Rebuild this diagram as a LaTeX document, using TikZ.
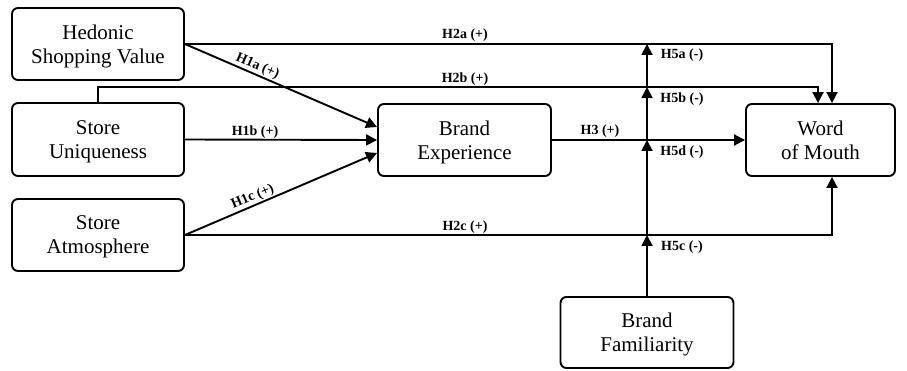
\documentclass[tikz,border=0pt]{standalone}
\usepackage{fontspec}
\setmainfont{Liberation Serif}
\usetikzlibrary{arrows.meta,calc}
\begin{document}
\begin{tikzpicture}[x=1pt,y=-1pt,
  box/.style={draw,line width=1.9pt,rounded corners=6pt,align=center,inner sep=0pt,
    text depth=0pt,font=\fontsize{21}{24}\selectfont},
  arr/.style={line width=1.9pt,-{Triangle[length=11pt,width=11pt]}},
  lab/.style={font=\bfseries\fontsize{14}{16}\selectfont,inner sep=1pt}]
\useasboundingbox (0,0) rectangle (907,371);
\node[box,minimum width=172pt,minimum height=72pt] (hsv) at (98,44) {Hedonic\\Shopping Value};
\node[box,minimum width=172pt,minimum height=73pt] (su) at (98,139.5) {Store\\Uniqueness};
\node[box,minimum width=172pt,minimum height=72pt] (sa) at (98,235) {Store\\Atmosphere};
\node[box,minimum width=173pt,minimum height=72pt] (be) at (464.5,140) {Brand\\Experience};
\node[box,minimum width=149pt,minimum height=72pt] (wom) at (820.5,140) {Word\\of Mouth};
\node[box,minimum width=173pt,minimum height=71pt] (bf) at (647,332.5) {Brand\\Familiarity};
% direct paths
\draw[arr] (hsv.east) -| ($(wom.north)+(11.5,0)$);
\coordinate (sutop) at ($(su.north)+(0,-15)$);
\draw[arr] (su.north) -- (sutop) -| ($(wom.north)+(-2.5,0)$);
\draw[arr] (sa.east) -| ($(wom.south)+(11.5,0)$);
\draw[arr] (hsv.east) -- node[lab,pos=0.36,above=0pt,sloped] {H1a (+)} ($(be.west)+(0,-13)$);
\draw[arr] (su.east) -- (be.west);
\draw[arr] (sa.east) -- node[lab,pos=0.37,above=0pt,sloped] {H1c (+)} ($(be.west)+(0,13)$);
\draw[arr] (be.east) -- (wom.west);
% moderator
\coordinate (m1) at (bf.north |- sa.east);
\coordinate (m2) at (bf.north |- be.east);
\coordinate (m3) at (bf.north |- sutop);
\coordinate (m4) at (bf.north |- hsv.east);
\draw[arr] (bf.north) -- (m1);
\draw[arr] (m1) -- (m2);
\draw[arr] (m2) -- (m3);
\draw[arr] (m3) -- (m4);
% labels
\node[lab] (l2a) at (465,35) {H2a (+)};
\node[lab] (l2b) at (465,79) {H2b (+)};
\node[lab] (l2c) at (465,227) {H2c (+)};
\node[lab] (l1b) at (255,132) {H1b (+)};
\node[lab] (l3) at (600,131) {H3 (+)};
\node[lab] (l5a) at (682,55) {H5a (-)};
\node[lab] (l5b) at (682,99) {H5b (-)};
\node[lab] (l5d) at (682,152) {H5d (-)};
\node[lab] (l5c) at (682,247) {H5c (-)};
\end{tikzpicture}
\end{document}
